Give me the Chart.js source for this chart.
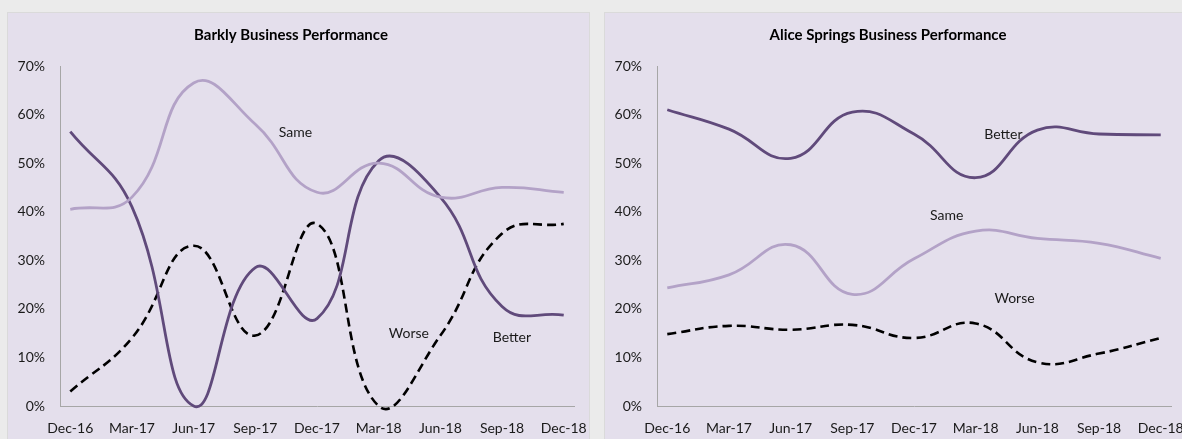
<!DOCTYPE html>
<html>
<head>
<meta charset="utf-8">
<script src="https://cdn.jsdelivr.net/npm/chart.js@4.4.1/dist/chart.umd.min.js"></script>
<style>
  body { margin: 0; background: #ebebeb; width: 1182px; height: 439px; overflow: hidden; position: relative; }
  .panel { position: absolute; top: 12px; width: 583px; height: 440px; background: #e4dfec; border: 1px solid #dadada; box-sizing: border-box; }
  #p1 { left: 7px; }
  #p2 { left: 604px; }
</style>
</head>
<body>
<div class="panel" id="p1"><canvas id="barkly"></canvas></div>
<div class="panel" id="p2"><canvas id="alice"></canvas></div>
<script>
const quarters = ["Dec-16", "Mar-17", "Jun-17", "Sep-17", "Dec-17", "Mar-18", "Jun-18", "Sep-18", "Dec-18"];
const yTicks = [0, 10, 20, 30, 40, 50, 60, 70];

const barklyBetter = [56.5, 41, 0, 28.5, 18, 50.5, 43, 20.5, 18.7];
const barklySame   = [40.5, 43, 66.5, 58, 44, 50, 43, 45, 44];
const barklyWorse  = [3, 14, 33, 14.5, 37.5, 0, 14.5, 35.5, 37.5];

const aliceBetter = [61, 57, 51, 60.5, 56, 47, 56.8, 56, 55.8];
const aliceSame   = [24.3, 27, 33.2, 23, 30.3, 36, 34.5, 33.5, 30.4];
const aliceWorse  = [14.8, 16.5, 15.7, 16.7, 14, 17, 9, 10.8, 14];

// series name labels, placed in data space: [text, x index, y value]
const barklyLabels = [["Same", 3.65, 56.4], ["Worse", 5.49, 15.0], ["Better", 7.16, 14.2]];
const aliceLabels  = [["Better", 5.45, 56], ["Same", 4.53, 39.3], ["Worse", 5.63, 22.2]];

const FONT = "Lato, 'Open Sans', sans-serif";

const seriesLabels = {
  id: 'seriesLabels',
  afterDatasetsDraw(chart, args, opts) {
    const ctx = chart.ctx;
    ctx.save();
    ctx.font = "14px " + FONT;
    ctx.fillStyle = "#1a1a1a";
    ctx.textAlign = "center";
    ctx.textBaseline = "middle";
    opts.items.forEach(function (it) {
      ctx.fillText(it[0], chart.scales.x.getPixelForValue(it[1]), chart.scales.y.getPixelForValue(it[2]));
    });
    ctx.restore();
  }
};

function pts(arr) {
  return arr.map(function (v, i) { return { x: i, y: v }; });
}

function createChart(id, title, better, same, worse, labels) {
  const ctx = document.getElementById(id);
  ctx.width = 583;
  ctx.height = 427;
  return new Chart(ctx, {
    type: 'line',
    data: {
      datasets: [{
        label: "Same",
        data: pts(same),
        borderColor: "#b3a2c7",
        borderWidth: 2.8,
      }, {
        label: "Better",
        data: pts(better),
        borderColor: "#604a7b",
        borderWidth: 2.8,
      }, {
        label: "Worse",
        data: pts(worse),
        borderColor: "#000000",
        borderWidth: 2.6,
        borderDash: [9, 5],
      }]
    },
    options: {
      responsive: false,
      animation: false,
      clip: false,
      elements: {
        point: { radius: 0 },
        line: { tension: 0.45, fill: false, capBezierPoints: false }
      },
      layout: { padding: { left: 0, right: 17, top: 0, bottom: 0 } },
      plugins: {
        legend: { display: false },
        tooltip: { enabled: false },
        title: {
          display: true,
          text: title,
          color: "#000",
          font: { family: FONT, size: 15, weight: 'bold' },
          padding: { top: 13, bottom: 22 }
        },
        seriesLabels: { items: labels }
      },
      scales: {
        x: {
          type: 'linear',
          min: -1 / 6,
          max: 8 + 1 / 6,
          grid: { display: false, drawTicks: false },
          border: { display: true, color: "#a6a6a6", width: 1 },
          afterBuildTicks: function (s) { s.ticks = quarters.map(function (q, i) { return { value: i }; }); },
          afterFit: function (s) { s.height = 34; s.paddingLeft = 0; s.paddingRight = 0; },
          ticks: {
            color: "#1a1a1a",
            font: { family: FONT, size: 14 },
            padding: 14,
            maxRotation: 0,
            autoSkip: false,
            callback: function (v) { return quarters[v]; }
          }
        },
        y: {
          min: 0,
          max: 70,
          grid: { display: false, drawTicks: false },
          border: { display: true, color: "#a6a6a6", width: 1 },
          afterBuildTicks: function (s) { s.ticks = yTicks.map(function (v) { return { value: v }; }); },
          afterFit: function (s) { s.width = 52; s.paddingTop = 0; s.paddingBottom = 0; },
          ticks: {
            color: "#1a1a1a",
            font: { family: FONT, size: 14 },
            padding: 15,
            callback: function (v) { return v + "%"; }
          }
        }
      }
    },
    plugins: [seriesLabels]
  });
}

let barkly_chart = createChart("barkly", "Barkly Business Performance", barklyBetter, barklySame, barklyWorse, barklyLabels);
let alice_chart = createChart("alice", "Alice Springs Business Performance", aliceBetter, aliceSame, aliceWorse, aliceLabels);
</script>
</body>
</html>
